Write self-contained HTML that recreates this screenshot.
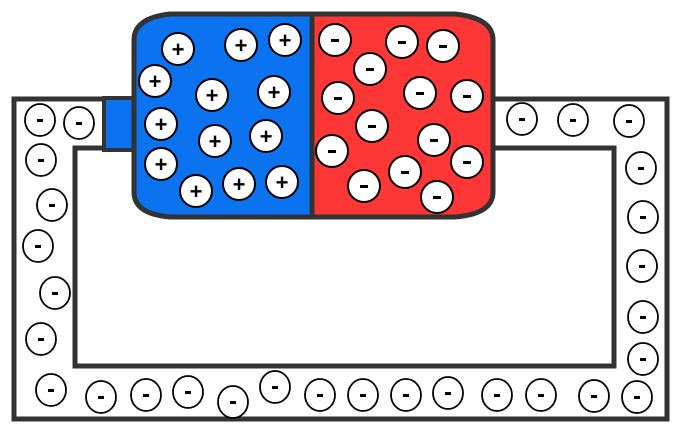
<!DOCTYPE html>
<html><head><style>html,body{margin:0;padding:0;background:#fff}svg{display:block}</style></head><body>
<svg width="693" height="442" viewBox="0 0 693 442" xmlns="http://www.w3.org/2000/svg" font-family="Liberation Sans, sans-serif">
<rect width="693" height="442" fill="#fff"/>
<!-- wire -->
<path d="M103,99 H14 V419 H667 V99 H495" fill="none" stroke="#333" stroke-width="5"/>
<path d="M103,148 H75 V366 H614 V148 H495" fill="none" stroke="#333" stroke-width="5"/>
<!-- tab -->
<rect x="104" y="98" width="30" height="52" fill="#0b72f0" stroke="#333" stroke-width="4"/>
<!-- battery -->
<path d="M312,14 H170 Q134,18 134,40 V192 Q134,214 170,217 H312 Z" fill="#0b72f0" stroke="#333" stroke-width="5"/>
<path d="M312,14 H455 Q493,18 493,40 V192 Q493,214 455,217 H312 Z" fill="#fe3636" stroke="#333" stroke-width="5"/>
<line x1="312" y1="14" x2="312" y2="217" stroke="#333" stroke-width="5"/>
<g fill="#fff" stroke="#000" stroke-width="2">
<circle cx="178" cy="49" r="16"/><circle cx="241" cy="45" r="16"/><circle cx="285" cy="40" r="16"/>
<circle cx="155" cy="81" r="16"/><circle cx="212" cy="95" r="16"/><circle cx="274" cy="92" r="16"/>
<circle cx="161" cy="124" r="16"/><circle cx="215" cy="141" r="16"/><circle cx="266" cy="136" r="16"/>
<circle cx="161" cy="164" r="16"/><circle cx="196" cy="191" r="16"/><circle cx="239" cy="184" r="16"/><circle cx="282" cy="182" r="16"/>
<circle cx="335" cy="40" r="16"/><circle cx="402" cy="42" r="16"/><circle cx="443" cy="46" r="16"/>
<circle cx="370" cy="69" r="16"/><circle cx="338" cy="98" r="16"/><circle cx="420" cy="93" r="16"/><circle cx="467" cy="96" r="16"/>
<circle cx="372" cy="126" r="16"/><circle cx="434" cy="140" r="16"/><circle cx="332" cy="151" r="16"/><circle cx="467" cy="162" r="16"/>
<circle cx="405" cy="172" r="16"/><circle cx="364" cy="186" r="16"/><circle cx="437" cy="197" r="16"/>
</g>
<g font-size="22" font-weight="bold" text-anchor="middle" fill="#000">
<text x="178" y="57">+</text><text x="241" y="53">+</text><text x="285" y="48">+</text>
<text x="155" y="89">+</text><text x="212" y="103">+</text><text x="274" y="100">+</text>
<text x="161" y="132">+</text><text x="215" y="149">+</text><text x="266" y="144">+</text>
<text x="161" y="172">+</text><text x="196" y="199">+</text><text x="239" y="192">+</text><text x="282" y="190">+</text>
</g>
<g fill="#000">
<rect x="331" y="39" width="8" height="3"/><rect x="398" y="41" width="8" height="3"/><rect x="439" y="45" width="8" height="3"/>
<rect x="366" y="68" width="8" height="3"/><rect x="334" y="97" width="8" height="3"/><rect x="416" y="92" width="8" height="3"/><rect x="463" y="95" width="8" height="3"/>
<rect x="368" y="125" width="8" height="3"/><rect x="430" y="139" width="8" height="3"/><rect x="328" y="150" width="8" height="3"/><rect x="463" y="161" width="8" height="3"/>
<rect x="401" y="171" width="8" height="3"/><rect x="360" y="185" width="8" height="3"/><rect x="433" y="196" width="8" height="3"/>
</g>
<g id="w" fill="#fff" stroke="#000" stroke-width="1.8">
<ellipse cx="40" cy="120" rx="15" ry="16"/><ellipse cx="79" cy="123" rx="15" ry="16"/><ellipse cx="41" cy="160" rx="15" ry="16"/>
<ellipse cx="52" cy="205" rx="15" ry="16"/><ellipse cx="38" cy="246" rx="15" ry="16"/><ellipse cx="55" cy="293" rx="15" ry="16"/><ellipse cx="41" cy="339" rx="15" ry="16"/>
<ellipse cx="522" cy="119" rx="15" ry="16"/><ellipse cx="573" cy="120" rx="15" ry="16"/><ellipse cx="629" cy="121" rx="15" ry="16"/>
<ellipse cx="641" cy="168" rx="15" ry="16"/><ellipse cx="643" cy="217" rx="15" ry="16"/><ellipse cx="642" cy="266" rx="15" ry="16"/>
<ellipse cx="643" cy="317" rx="15" ry="16"/><ellipse cx="643" cy="359" rx="15" ry="16"/>
<ellipse cx="51" cy="390" rx="15" ry="16"/><ellipse cx="101" cy="397" rx="15" ry="16"/><ellipse cx="146" cy="395" rx="15" ry="16"/>
<ellipse cx="188" cy="392" rx="15" ry="16"/><ellipse cx="233" cy="402" rx="15" ry="16"/><ellipse cx="275" cy="387" rx="15" ry="16"/>
<ellipse cx="320" cy="395" rx="15" ry="16"/><ellipse cx="363" cy="395" rx="15" ry="16"/><ellipse cx="406" cy="395" rx="15" ry="16"/>
<ellipse cx="448" cy="393" rx="15" ry="16"/><ellipse cx="497" cy="395" rx="15" ry="16"/><ellipse cx="541" cy="395" rx="15" ry="16"/>
<ellipse cx="594" cy="396" rx="15" ry="16"/><ellipse cx="637" cy="397" rx="15" ry="16"/>
</g>
<g fill="#000">
<rect x="37" y="119" width="6" height="3"/><rect x="76" y="122" width="6" height="3"/><rect x="38" y="159" width="6" height="3"/>
<rect x="49" y="204" width="6" height="3"/><rect x="35" y="245" width="6" height="3"/><rect x="52" y="292" width="6" height="3"/><rect x="38" y="338" width="6" height="3"/>
<rect x="519" y="118" width="6" height="3"/><rect x="570" y="119" width="6" height="3"/><rect x="626" y="120" width="6" height="3"/>
<rect x="638" y="167" width="6" height="3"/><rect x="640" y="216" width="6" height="3"/><rect x="639" y="265" width="6" height="3"/>
<rect x="640" y="316" width="6" height="3"/><rect x="640" y="358" width="6" height="3"/>
<rect x="48" y="389" width="6" height="3"/><rect x="98" y="396" width="6" height="3"/><rect x="143" y="394" width="6" height="3"/>
<rect x="185" y="391" width="6" height="3"/><rect x="230" y="401" width="6" height="3"/><rect x="272" y="386" width="6" height="3"/>
<rect x="317" y="394" width="6" height="3"/><rect x="360" y="394" width="6" height="3"/><rect x="403" y="394" width="6" height="3"/>
<rect x="445" y="392" width="6" height="3"/><rect x="494" y="394" width="6" height="3"/><rect x="538" y="394" width="6" height="3"/>
<rect x="591" y="395" width="6" height="3"/><rect x="634" y="396" width="6" height="3"/>
</g>
</svg>
</body></html>
